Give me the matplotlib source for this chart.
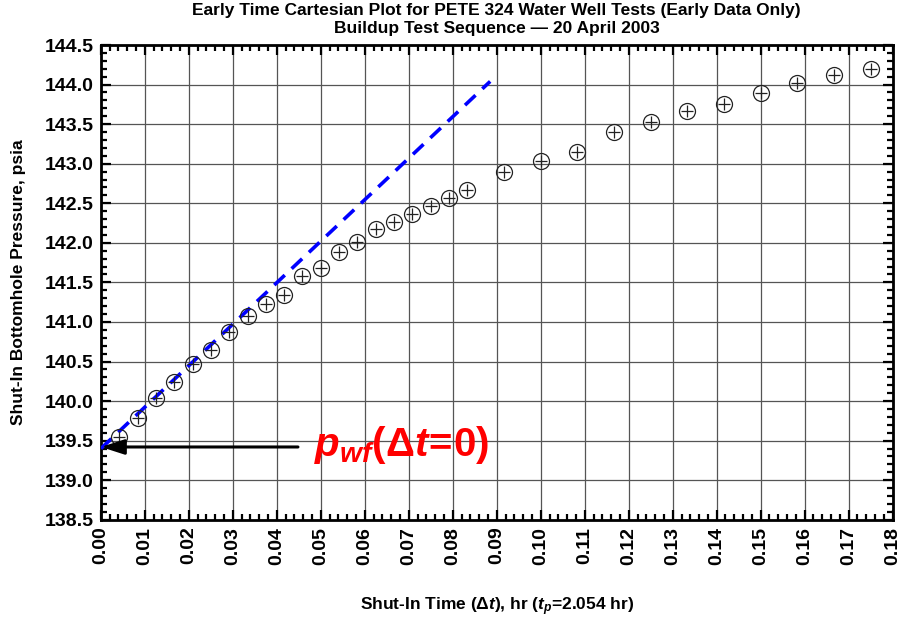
import matplotlib
matplotlib.use("Agg")
import matplotlib.pyplot as plt
from matplotlib.ticker import MultipleLocator, FormatStrFormatter

FAM = "Liberation Sans"
plt.rcParams['font.family'] = [FAM, 'DejaVu Sans']
plt.rcParams['font.weight'] = 'bold'
plt.rcParams['mathtext.fontset'] = 'custom'
plt.rcParams['mathtext.rm'] = FAM + ':bold'
plt.rcParams['mathtext.bf'] = FAM + ':bold'
plt.rcParams['mathtext.it'] = FAM + ':italic:bold'

# Data
shut_in_time = [0.00417, 0.00833, 0.01250, 0.01667, 0.02083, 0.02500, 0.02917, 0.03333,
                0.03750, 0.04167, 0.04583, 0.05000, 0.05417, 0.05833, 0.06250, 0.06667,
                0.07083, 0.07500, 0.07917, 0.08333, 0.09167, 0.10000, 0.10833, 0.11667,
                0.12500, 0.13333, 0.14167, 0.15000, 0.15833, 0.16667, 0.17500]
pressure = [139.54, 139.78, 140.04, 140.24, 140.47, 140.65, 140.87, 141.08,
            141.23, 141.34, 141.58, 141.68, 141.89, 142.01, 142.18, 142.26,
            142.37, 142.47, 142.57, 142.67, 142.89, 143.03, 143.15, 143.40,
            143.53, 143.66, 143.76, 143.89, 144.02, 144.12, 144.20]
line_t = [0.0, 0.0885]
line_p = [139.40, 144.04]
pwf0_t = 0.0
pwf0_p = 139.42
arrow_tail_t = 0.0448

fig = plt.figure(figsize=(9.09, 6.21), dpi=100)
ax = fig.add_axes([0.111, 0.163, 0.871, 0.7645])

ax.set_xlim(0, 0.18)
ax.set_ylim(138.5, 144.5)
ax.xaxis.set_major_locator(MultipleLocator(0.01))
ax.xaxis.set_minor_locator(MultipleLocator(0.002))
ax.yaxis.set_major_locator(MultipleLocator(0.5))
ax.yaxis.set_minor_locator(MultipleLocator(0.1))
ax.xaxis.set_major_formatter(FormatStrFormatter('%.2f'))
ax.yaxis.set_major_formatter(FormatStrFormatter('%.1f'))
ax.grid(True, which='major', color='#555555', lw=0.9)
ax.set_axisbelow(True)
ax.tick_params(which='both', direction='in', top=True, right=True, width=1.6)
ax.tick_params(which='major', length=7, labelsize=14)
ax.tick_params(which='minor', length=4)
ax.tick_params(axis='x', which='major', labelrotation=90, pad=5)
ax.tick_params(axis='y', which='major', pad=5)
for s in ax.spines.values():
    s.set_linewidth(2)

ax.plot(line_t, line_p, color='#0000FF', lw=2.6, dashes=(4, 2.6), zorder=3)
ax.plot(shut_in_time, pressure, 'o', ms=11.5, mfc='none', mec='#222222', mew=0.9, zorder=4)
ax.plot(shut_in_time, pressure, '+', ms=8, mec='#222222', mew=0.9, zorder=4)

ax.annotate('', xy=(pwf0_t, pwf0_p), xytext=(arrow_tail_t, pwf0_p),
            arrowprops=dict(arrowstyle='-|>,head_length=1.4,head_width=0.45', color='black', lw=2.2,
                            shrinkA=0, shrinkB=0), zorder=5)
ax.text(0.0485, pwf0_p + 0.02, r'$p_{wf}(\Delta t\!=\!0)$', color='#FF0000', fontsize=29,
        va='center', ha='left', zorder=5)

ax.set_title('Early Time Cartesian Plot for PETE 324 Water Well Tests (Early Data Only)\n'
             'Buildup Test Sequence \u2014 20 April 2003', fontsize=12.5, fontweight='bold',
             pad=9, linespacing=1.2)
ax.set_xlabel(r'Shut-In Time ($\Delta t$), hr ($t_p$=2.054 hr)', fontsize=12.5,
              fontweight='bold', labelpad=22)
ax.set_ylabel('Shut-In Bottomhole Pressure, psia', fontsize=12.5, fontweight='bold', labelpad=14)

fig.savefig('out.png', dpi=100)
